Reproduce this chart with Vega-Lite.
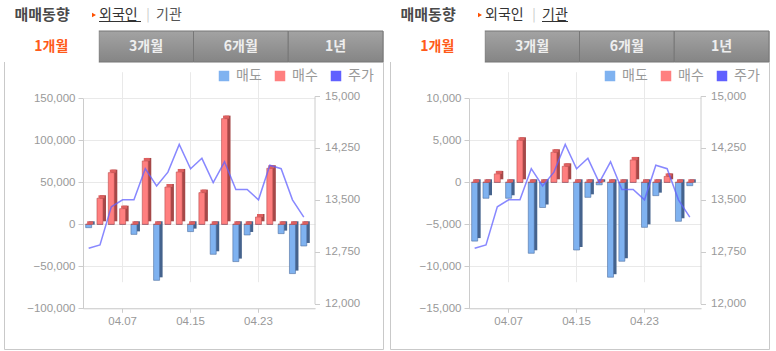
{
  "$schema": "https://vega.github.io/schema/vega-lite/v6.json",
  "padding": {"left": 3, "top": 0, "right": 0, "bottom": 0},
  "spacing": 5,
  "datasets": {
    "tabs": [
      {"tab": "1개월", "on": 1},
      {"tab": "3개월", "on": 0},
      {"tab": "6개월", "on": 0},
      {"tab": "1년", "on": 0}
    ],
    "foreign": [
      {"d": "04.02", "sell": -4000, "buy": 0, "price": 12800},
      {"d": "04.03", "sell": 0, "buy": 31000, "price": 12850},
      {"d": "04.06", "sell": 0, "buy": 61500, "price": 13400},
      {"d": "04.07", "sell": 0, "buy": 18600, "price": 13500},
      {"d": "04.08", "sell": -12000, "buy": 0, "price": 13500},
      {"d": "04.09", "sell": 0, "buy": 75400, "price": 13950},
      {"d": "04.10", "sell": -66700, "buy": 0, "price": 13700},
      {"d": "04.13", "sell": 0, "buy": 44400, "price": 13900},
      {"d": "04.14", "sell": 0, "buy": 62300, "price": 14300},
      {"d": "04.15", "sell": -8700, "buy": 0, "price": 13950},
      {"d": "04.16", "sell": 0, "buy": 37700, "price": 14100},
      {"d": "04.17", "sell": -35700, "buy": 0, "price": 13750},
      {"d": "04.20", "sell": 0, "buy": 125800, "price": 14050},
      {"d": "04.21", "sell": -44400, "buy": 0, "price": 13650},
      {"d": "04.22", "sell": -12700, "buy": 0, "price": 13650},
      {"d": "04.23", "sell": 0, "buy": 8700, "price": 13500},
      {"d": "04.24", "sell": 0, "buy": 66700, "price": 14000},
      {"d": "04.27", "sell": -11100, "buy": 0, "price": 13950},
      {"d": "04.28", "sell": -58700, "buy": 0, "price": 13500},
      {"d": "04.29", "sell": -25800, "buy": 0, "price": 13250}
    ],
    "inst": [
      {"d": "04.02", "sell": -7000, "buy": 0, "price": 12800},
      {"d": "04.03", "sell": -1900, "buy": 0, "price": 12850},
      {"d": "04.06", "sell": 0, "buy": 1000, "price": 13400},
      {"d": "04.07", "sell": -1900, "buy": 0, "price": 13500},
      {"d": "04.08", "sell": 0, "buy": 5000, "price": 13500},
      {"d": "04.09", "sell": -8450, "buy": 0, "price": 13950},
      {"d": "04.10", "sell": -3000, "buy": 0, "price": 13700},
      {"d": "04.13", "sell": 0, "buy": 3570, "price": 13900},
      {"d": "04.14", "sell": 0, "buy": 1900, "price": 14300},
      {"d": "04.15", "sell": -8060, "buy": 0, "price": 13950},
      {"d": "04.16", "sell": -1790, "buy": 0, "price": 14100},
      {"d": "04.17", "sell": -300, "buy": 0, "price": 13750},
      {"d": "04.20", "sell": -11300, "buy": 0, "price": 14050},
      {"d": "04.21", "sell": -9400, "buy": 0, "price": 13650},
      {"d": "04.22", "sell": 0, "buy": 2660, "price": 13650},
      {"d": "04.23", "sell": -5360, "buy": 0, "price": 13500},
      {"d": "04.24", "sell": -1590, "buy": 0, "price": 14000},
      {"d": "04.27", "sell": 0, "buy": 700, "price": 13950},
      {"d": "04.28", "sell": -4640, "buy": 0, "price": 13500},
      {"d": "04.29", "sell": -400, "buy": 0, "price": 13250}
    ]
  },
  "resolve": {"scale": {"color": "independent"}, "legend": {"color": "independent"}},
  "hconcat": [
    {
      "spacing": 0,
      "resolve": {"scale": {"color": "independent"}, "legend": {"color": "independent"}},
      "vconcat": [
        {
          "width": 379, "height": 30,
          "view": {"stroke": null},
          "encoding": {"x": {"field": "i", "type": "quantitative", "scale": {"domain": [0, 1, 2, 3, 4, 5, 6], "range": [10.5, 90, 95, 137, 144, 152, 178], "nice": false, "zero": false}, "axis": null}},
          "layer": [
            {"data": {"values": [{"i": 0, "t": "매매동향"}]}, "mark": {"type": "text", "align": "left", "fontWeight": "bold", "fontSize": 15, "color": "#4a4a4a"}, "encoding": {"text": {"field": "t"}}},
            {"data": {"values": [{"i": 1}]}, "mark": {"type": "point", "shape": "triangle-right", "size": 22, "filled": true, "color": "#ff5000", "opacity": 1}},
            {"data": {"values": [{"i": 2, "t": "외국인"}]}, "mark": {"type": "text", "align": "left", "fontSize": 14, "color": "#333333"}, "encoding": {"text": {"field": "t"}}},
            {"data": {"values": [{"i": 2, "i2": 3}]}, "mark": {"type": "rule", "color": "#333333", "strokeWidth": 1, "yOffset": 6.5}, "encoding": {"x2": {"field": "i2"}}},
            {"data": {"values": [{"i": 4, "t": "|"}]}, "mark": {"type": "text", "align": "center", "fontSize": 13, "color": "#c8c8c8"}, "encoding": {"text": {"field": "t"}}},
            {"data": {"values": [{"i": 5, "t": "기관"}]}, "mark": {"type": "text", "align": "left", "fontSize": 14, "color": "#555555"}, "encoding": {"text": {"field": "t"}}}
          ]
        },
        {
          "width": 379, "height": 318,
          "view": {"stroke": "#c9c9c9"},
          "resolve": {"scale": {"x": "independent", "y": "independent"}},
          "layer": [
            {
              "data": {"name": "tabs"},
              "encoding": {
                "x": {"field": "tab", "type": "nominal", "scale": {"domain": ["1개월", "3개월", "6개월", "1년"], "paddingInner": 0, "paddingOuter": 0}, "axis": null},
                "y": {"datum": 0, "type": "quantitative", "scale": {"domain": [0, 1], "range": [31, 0], "nice": false, "zero": false}, "axis": null}
              },
              "layer": [
                {"transform": [{"filter": "datum.on == 0"}], "mark": {"type": "bar", "fill": {"gradient": "linear", "x1": 0, "y1": 0, "x2": 0, "y2": 1, "stops": [{"offset": 0, "color": "#a3a3a3"}, {"offset": 1, "color": "#858585"}]}, "stroke": "#777777", "strokeWidth": 1}, "encoding": {"y2": {"datum": 1}}},
                {"transform": [{"filter": "datum.on == 1"}], "mark": {"type": "bar", "fill": "#ffffff"}, "encoding": {"y2": {"datum": 1}}},
                {"mark": {"type": "text", "fontWeight": "bold", "fontSize": 14}, "encoding": {"y": {"datum": 0.5, "type": "quantitative"}, "text": {"field": "tab"}, "color": {"condition": {"test": "datum.on == 1", "value": "#ff5a1a"}, "value": "#eeeeee"}}}
              ]
            },
            {
              "data": {"name": "foreign"},
              "resolve": {"scale": {"y": "independent"}},
              "encoding": {
                "x": {"field": "d", "type": "ordinal", "sort": null, "scale": {"paddingInner": 0, "paddingOuter": 0.245, "align": 0, "range": [79, 311]},
                  "axis": {"orient": "bottom", "offset": -40.7, "values": ["04.07", "04.15", "04.23"], "labelAngle": 0, "tickSize": 4, "labelPadding": 3, "grid": true, "title": null}}
              },
              "layer": [
                {"mark": {"type": "bar", "width": 6, "xOffset": 3, "yOffset": -3, "y2Offset": -3, "color": "#45638d"},
                 "encoding": {"y": {"field": "sell", "type": "quantitative", "scale": {"domain": [-100000, 150000], "range": [277.3, 67.3], "nice": false},
                   "axis": {"orient": "left", "offset": -79, "values": [-100000, -50000, 0, 50000, 100000, 150000], "format": ",.0f", "tickSize": 5, "labelPadding": 3, "grid": true, "title": null}}}},
                {"mark": {"type": "bar", "width": 6, "stroke": "#4d6f9f", "strokeWidth": 0.6},
                 "encoding": {"y": {"field": "sell", "type": "quantitative", "scale": {"domain": [-100000, 150000], "range": [277.3, 67.3], "nice": false}, "axis": null},
                   "color": {"datum": "매도", "type": "nominal", "scale": {"domain": ["매도", "매수", "주가"], "range": ["#7fb2f0", "#ff7f7f", "#6060ff"]},
                     "legend": {"orient": "none", "legendX": 213, "legendY": 38, "direction": "horizontal", "title": null, "symbolType": "square", "symbolSize": 110, "symbolStrokeWidth": 0, "labelFontSize": 14, "labelColor": "#999999", "labelFont": "Noto Sans CJK KR", "columnPadding": 11, "labelOffset": 5}}}},
                {"mark": {"type": "bar", "width": 6, "xOffset": 3, "yOffset": -3, "y2Offset": -3, "color": "#a54848"},
                 "encoding": {"y": {"field": "buy", "type": "quantitative", "scale": {"domain": [-100000, 150000], "range": [277.3, 67.3], "nice": false}, "axis": null}}},
                {"mark": {"type": "bar", "width": 6, "stroke": "#b84d4d", "strokeWidth": 0.6},
                 "encoding": {"y": {"field": "buy", "type": "quantitative", "scale": {"domain": [-100000, 150000], "range": [277.3, 67.3], "nice": false}, "axis": null},
                   "color": {"datum": "매수", "type": "nominal", "scale": {"domain": ["매도", "매수", "주가"], "range": ["#7fb2f0", "#ff7f7f", "#6060ff"]}, "legend": null}}},
                {"mark": {"type": "bar", "width": 6, "xOffset": 1.5, "yOffset": -3, "color": "#dd5f5f"},
                 "encoding": {"y": {"field": "buy", "type": "quantitative", "scale": {"domain": [-100000, 150000], "range": [277.3, 67.3], "nice": false}, "axis": null}, "y2": {"field": "buy"}}},
                {"mark": {"type": "line", "strokeWidth": 1.5, "opacity": 0.75},
                 "encoding": {"y": {"field": "price", "type": "quantitative", "scale": {"domain": [12000, 15000], "range": [272.7, 65], "nice": false, "zero": false},
                   "axis": {"orient": "right", "offset": -68.5, "values": [12000, 12750, 13500, 14250, 15000], "format": ",.0f", "tickSize": 5, "labelPadding": 5, "grid": false, "title": null}},
                   "color": {"datum": "주가", "type": "nominal", "scale": {"domain": ["매도", "매수", "주가"], "range": ["#7fb2f0", "#ff7f7f", "#6060ff"]}, "legend": null}}}
              ]
            }
          ]
        }
      ]
    },
    {
      "spacing": 0,
      "resolve": {"scale": {"color": "independent"}, "legend": {"color": "independent"}},
      "vconcat": [
        {
          "width": 379, "height": 30,
          "view": {"stroke": null},
          "encoding": {"x": {"field": "i", "type": "quantitative", "scale": {"domain": [0, 1, 2, 3, 4, 5, 6], "range": [10.5, 90, 95, 137, 144, 152, 178], "nice": false, "zero": false}, "axis": null}},
          "layer": [
            {"data": {"values": [{"i": 0, "t": "매매동향"}]}, "mark": {"type": "text", "align": "left", "fontWeight": "bold", "fontSize": 15, "color": "#4a4a4a"}, "encoding": {"text": {"field": "t"}}},
            {"data": {"values": [{"i": 1}]}, "mark": {"type": "point", "shape": "triangle-right", "size": 22, "filled": true, "color": "#ff5000", "opacity": 1}},
            {"data": {"values": [{"i": 2, "t": "외국인"}]}, "mark": {"type": "text", "align": "left", "fontSize": 14, "color": "#333333"}, "encoding": {"text": {"field": "t"}}},
            {"data": {"values": [{"i": 4, "t": "|"}]}, "mark": {"type": "text", "align": "center", "fontSize": 13, "color": "#c8c8c8"}, "encoding": {"text": {"field": "t"}}},
            {"data": {"values": [{"i": 5, "t": "기관"}]}, "mark": {"type": "text", "align": "left", "fontSize": 14, "color": "#333333"}, "encoding": {"text": {"field": "t"}}},
            {"data": {"values": [{"i": 5, "i2": 6}]}, "mark": {"type": "rule", "color": "#333333", "strokeWidth": 1, "yOffset": 6.5}, "encoding": {"x2": {"field": "i2"}}}
          ]
        },
        {
          "width": 379, "height": 318,
          "view": {"stroke": "#c9c9c9"},
          "resolve": {"scale": {"x": "independent", "y": "independent"}},
          "layer": [
            {
              "data": {"name": "tabs"},
              "encoding": {
                "x": {"field": "tab", "type": "nominal", "scale": {"domain": ["1개월", "3개월", "6개월", "1년"], "paddingInner": 0, "paddingOuter": 0}, "axis": null},
                "y": {"datum": 0, "type": "quantitative", "scale": {"domain": [0, 1], "range": [31, 0], "nice": false, "zero": false}, "axis": null}
              },
              "layer": [
                {"transform": [{"filter": "datum.on == 0"}], "mark": {"type": "bar", "fill": {"gradient": "linear", "x1": 0, "y1": 0, "x2": 0, "y2": 1, "stops": [{"offset": 0, "color": "#a3a3a3"}, {"offset": 1, "color": "#858585"}]}, "stroke": "#777777", "strokeWidth": 1}, "encoding": {"y2": {"datum": 1}}},
                {"transform": [{"filter": "datum.on == 1"}], "mark": {"type": "bar", "fill": "#ffffff"}, "encoding": {"y2": {"datum": 1}}},
                {"mark": {"type": "text", "fontWeight": "bold", "fontSize": 14}, "encoding": {"y": {"datum": 0.5, "type": "quantitative"}, "text": {"field": "tab"}, "color": {"condition": {"test": "datum.on == 1", "value": "#ff5a1a"}, "value": "#eeeeee"}}}
              ]
            },
            {
              "data": {"name": "inst"},
              "resolve": {"scale": {"y": "independent"}},
              "encoding": {
                "x": {"field": "d", "type": "ordinal", "sort": null, "scale": {"paddingInner": 0, "paddingOuter": 0.245, "align": 0, "range": [79, 311]},
                  "axis": {"orient": "bottom", "offset": -40.7, "values": ["04.07", "04.15", "04.23"], "labelAngle": 0, "tickSize": 4, "labelPadding": 3, "grid": true, "title": null}}
              },
              "layer": [
                {"mark": {"type": "bar", "width": 6, "xOffset": 3, "yOffset": -3, "y2Offset": -3, "color": "#45638d"},
                 "encoding": {"y": {"field": "sell", "type": "quantitative", "scale": {"domain": [-15000, 10000], "range": [277.3, 67.3], "nice": false},
                   "axis": {"orient": "left", "offset": -79, "values": [-15000, -10000, -5000, 0, 5000, 10000], "format": ",.0f", "tickSize": 5, "labelPadding": 3, "grid": true, "title": null}}}},
                {"mark": {"type": "bar", "width": 6, "stroke": "#4d6f9f", "strokeWidth": 0.6},
                 "encoding": {"y": {"field": "sell", "type": "quantitative", "scale": {"domain": [-15000, 10000], "range": [277.3, 67.3], "nice": false}, "axis": null},
                   "color": {"datum": "매도", "type": "nominal", "scale": {"domain": ["매도", "매수", "주가"], "range": ["#7fb2f0", "#ff7f7f", "#6060ff"]},
                     "legend": {"orient": "none", "legendX": 213, "legendY": 38, "direction": "horizontal", "title": null, "symbolType": "square", "symbolSize": 110, "symbolStrokeWidth": 0, "labelFontSize": 14, "labelColor": "#999999", "labelFont": "Noto Sans CJK KR", "columnPadding": 11, "labelOffset": 5}}}},
                {"mark": {"type": "bar", "width": 6, "xOffset": 3, "yOffset": -3, "y2Offset": -3, "color": "#a54848"},
                 "encoding": {"y": {"field": "buy", "type": "quantitative", "scale": {"domain": [-15000, 10000], "range": [277.3, 67.3], "nice": false}, "axis": null}}},
                {"mark": {"type": "bar", "width": 6, "stroke": "#b84d4d", "strokeWidth": 0.6},
                 "encoding": {"y": {"field": "buy", "type": "quantitative", "scale": {"domain": [-15000, 10000], "range": [277.3, 67.3], "nice": false}, "axis": null},
                   "color": {"datum": "매수", "type": "nominal", "scale": {"domain": ["매도", "매수", "주가"], "range": ["#7fb2f0", "#ff7f7f", "#6060ff"]}, "legend": null}}},
                {"mark": {"type": "bar", "width": 6, "xOffset": 1.5, "yOffset": -3, "color": "#dd5f5f"},
                 "encoding": {"y": {"field": "buy", "type": "quantitative", "scale": {"domain": [-15000, 10000], "range": [277.3, 67.3], "nice": false}, "axis": null}, "y2": {"field": "buy"}}},
                {"mark": {"type": "line", "strokeWidth": 1.5, "opacity": 0.75},
                 "encoding": {"y": {"field": "price", "type": "quantitative", "scale": {"domain": [12000, 15000], "range": [272.7, 65], "nice": false, "zero": false},
                   "axis": {"orient": "right", "offset": -68.5, "values": [12000, 12750, 13500, 14250, 15000], "format": ",.0f", "tickSize": 5, "labelPadding": 5, "grid": false, "title": null}},
                   "color": {"datum": "주가", "type": "nominal", "scale": {"domain": ["매도", "매수", "주가"], "range": ["#7fb2f0", "#ff7f7f", "#6060ff"]}, "legend": null}}}
              ]
            }
          ]
        }
      ]
    }
  ],
  "config": {
    "font": "Noto Sans CJK KR",
    "view": {"stroke": null},
    "axis": {"labelFont": "Liberation Sans", "labelFontSize": 11.5, "labelColor": "#999999", "domainColor": "#cccccc", "tickColor": "#cccccc", "gridColor": "#e9e9e9"},
    "text": {"font": "Noto Sans CJK KR"}
  }
}
